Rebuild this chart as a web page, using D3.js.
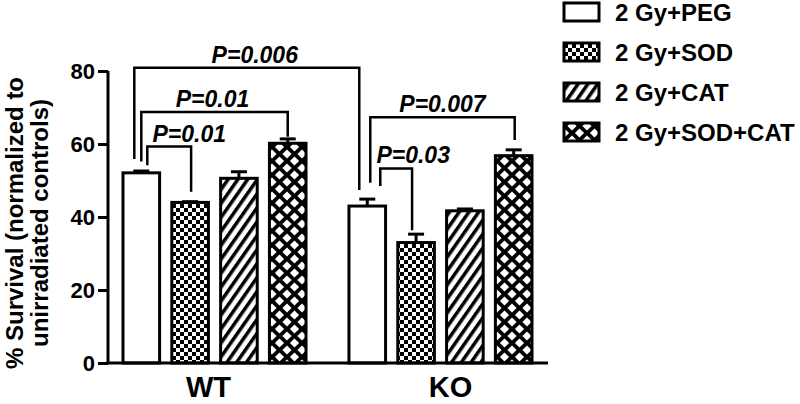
<!DOCTYPE html>
<html>
<head>
<meta charset="utf-8">
<script src="https://cdn.jsdelivr.net/npm/d3@7/dist/d3.min.js"></script>
<style>
  html, body { margin: 0; padding: 0; background: #fff; }
  svg { display: block; font-family: "Liberation Sans", Arial, sans-serif; }
</style>
</head>
<body>
<svg id="chart" width="800" height="404"></svg>
<script>
// ---- data ----
const groups = ["WT", "KO"];
const series = ["2 Gy+PEG", "2 Gy+SOD", "2 Gy+CAT", "2 Gy+SOD+CAT"];
const wtValues = [52.1, 44.0, 50.6, 60.2];
const wtErrors = [0.5, 0.2, 1.8, 1.2];
const koValues = [43.0, 33.0, 41.7, 56.8];
const koErrors = [1.9, 2.3, 0.5, 1.6];
const yTicks = [0, 20, 40, 60, 80];
const yTitle = ["% Survival (normalized to", "unirradiated controls)"];
// significance brackets: [group, series], line level and leg ends in data units
const pLabels = ["P=0.006", "P=0.01", "P=0.01", "P=0.007", "P=0.03"];
const pFrom = [["WT", 0], ["WT", 0], ["WT", 0], ["KO", 0], ["KO", 0]];
const pTo = [["KO", 0], ["WT", 3], ["WT", 1], ["KO", 3], ["KO", 1]];
const pLevel = [80.9, 68.8, 59.3, 67.3, 53.3];
const pFromEnd = [55.9, 55.2, 54.2, 49.4, 48.5];
const pToEnd = [47.4, 62.0, 46.9, 61.1, 36.4];

const values = { WT: wtValues, KO: koValues };
const errors = { WT: wtErrors, KO: koErrors };

// ---- layout / style (not data) ----
const legDxFrom = [-7, 0, 6, 3, 13];
const legDxTo = [-8, 0, 1, 1, -4];
const textDx = [8, -2, 20, 0, 17];
const fills = ["#fff", "url(#checker)", "url(#stripes)", "url(#diamonds)"];

const svg = d3.select("#chart");
const defs = svg.append("defs");

// checkerboard
const pc = defs.append("pattern").attr("id", "checker").attr("patternUnits", "userSpaceOnUse")
  .attr("width", 8).attr("height", 8);
pc.append("rect").attr("width", 8).attr("height", 8).attr("fill", "#fff");
pc.append("rect").attr("x", 0).attr("y", 0).attr("width", 4).attr("height", 4).attr("fill", "#000");
pc.append("rect").attr("x", 4).attr("y", 4).attr("width", 4).attr("height", 4).attr("fill", "#000");

// diagonal stripes "/"
const ps = defs.append("pattern").attr("id", "stripes").attr("patternUnits", "userSpaceOnUse")
  .attr("width", 8).attr("height", 8).attr("patternTransform", "rotate(35)");
ps.append("rect").attr("width", 8).attr("height", 8).attr("fill", "#fff");
ps.append("rect").attr("x", 0).attr("y", 0).attr("width", 3.5).attr("height", 8).attr("fill", "#000");

// diamonds (crosshatch)
const pw = 15, ph = 14, dr = 4.6;
const pd = defs.append("pattern").attr("id", "diamonds").attr("patternUnits", "userSpaceOnUse")
  .attr("width", pw).attr("height", ph).attr("x", 2).attr("y", 0);
pd.append("rect").attr("width", pw).attr("height", ph).attr("fill", "#000");
[[pw / 2, ph / 2], [0, 0], [pw, 0], [0, ph], [pw, ph]].forEach(([cx, cy]) => {
  pd.append("path").attr("d", `M${cx},${cy - dr}L${cx + dr},${cy}L${cx},${cy + dr}L${cx - dr},${cy}Z`)
    .attr("fill", "#fff");
});

// scales
const y = d3.scaleLinear().domain([0, 80]).range([363, 71]);
const x0 = d3.scaleBand().domain(groups).range([123, 532]).paddingInner(0.19).paddingOuter(0);
const x1 = d3.scaleBand().domain(d3.range(series.length)).range([0, x0.bandwidth()]).paddingInner(0.25).paddingOuter(0);
const cx = (g, i) => x0(g) + x1(i) + x1.bandwidth() / 2;

// bars
const rows = [];
groups.forEach(g => series.forEach((s, i) => rows.push({ g, i, v: values[g][i], e: errors[g][i] })));

svg.append("g").selectAll("rect").data(rows).join("rect")
  .attr("x", d => x0(d.g) + x1(d.i))
  .attr("y", d => y(d.v))
  .attr("width", x1.bandwidth())
  .attr("height", d => y(0) - y(d.v))
  .attr("fill", d => fills[d.i])
  .attr("stroke", "#000").attr("stroke-width", 3);

// error bars
const eb = svg.append("g").attr("stroke", "#000").attr("stroke-width", 3);
rows.forEach(d => {
  const c = cx(d.g, d.i);
  eb.append("line").attr("x1", c).attr("x2", c).attr("y1", y(d.v)).attr("y2", y(d.v + d.e));
  eb.append("line").attr("x1", c - 8).attr("x2", c + 8).attr("y1", y(d.v + d.e)).attr("y2", y(d.v + d.e));
});

// axes
const yAxis = d3.axisLeft(y).tickValues(yTicks).tickSize(10).tickSizeOuter(0).tickPadding(3);
const ag = svg.append("g").attr("transform", "translate(108,0)").call(yAxis);
ag.select(".domain").attr("stroke-width", 3).attr("d", `M0,${y(80)}V${y(0)}`);
ag.selectAll(".tick line").attr("stroke-width", 3);
ag.selectAll(".tick text").attr("font-size", 22).attr("font-weight", "bold").attr("fill", "#000")
  .attr("font-family", "Liberation Sans, Arial, sans-serif");

svg.append("line").attr("x1", 106.5).attr("x2", 548).attr("y1", y(0)).attr("y2", y(0))
  .attr("stroke", "#000").attr("stroke-width", 3);

// group labels
svg.append("g").selectAll("text").data(groups).join("text")
  .attr("x", g => x0(g) + x0.bandwidth() / 2 + (g === "WT" ? -6 : 10))
  .attr("y", 397)
  .attr("text-anchor", "middle")
  .attr("font-size", 29).attr("font-weight", "bold")
  .text(g => g);

// y title
const yt = svg.append("text").attr("transform", "translate(0,223) rotate(-90)")
  .attr("text-anchor", "middle").attr("font-size", 24).attr("font-weight", "bold");
yt.append("tspan").attr("x", 0).attr("y", 23).text(yTitle[0]);
yt.append("tspan").attr("x", 0).attr("y", 48).text(yTitle[1]);

// brackets
const br = svg.append("g");
pLabels.forEach((lab, k) => {
  const xa = cx(pFrom[k][0], pFrom[k][1]) + legDxFrom[k];
  const xb = cx(pTo[k][0], pTo[k][1]) + legDxTo[k];
  const ly = y(pLevel[k]);
  br.append("path")
    .attr("d", `M${xa},${y(pFromEnd[k])}V${ly}H${xb}V${y(pToEnd[k])}`)
    .attr("fill", "none").attr("stroke", "#000").attr("stroke-width", 2.5);
  br.append("text")
    .attr("x", (xa + xb) / 2 + textDx[k])
    .attr("y", ly - 5)
    .attr("text-anchor", "middle")
    .attr("font-size", 23).attr("font-weight", "bold").attr("font-style", "italic")
    .text(lab);
});

// legend
const lg = svg.append("g");
series.forEach((s, i) => {
  const top = 3 + i * 40;
  lg.append("rect").attr("x", 564).attr("y", top).attr("width", 35).attr("height", 18)
    .attr("fill", fills[i]).attr("stroke", "#000").attr("stroke-width", 3);
  lg.append("text").attr("x", 615).attr("y", top + 18).attr("font-size", 24).attr("font-weight", "bold")
    .text(s);
});
</script>
</body>
</html>
